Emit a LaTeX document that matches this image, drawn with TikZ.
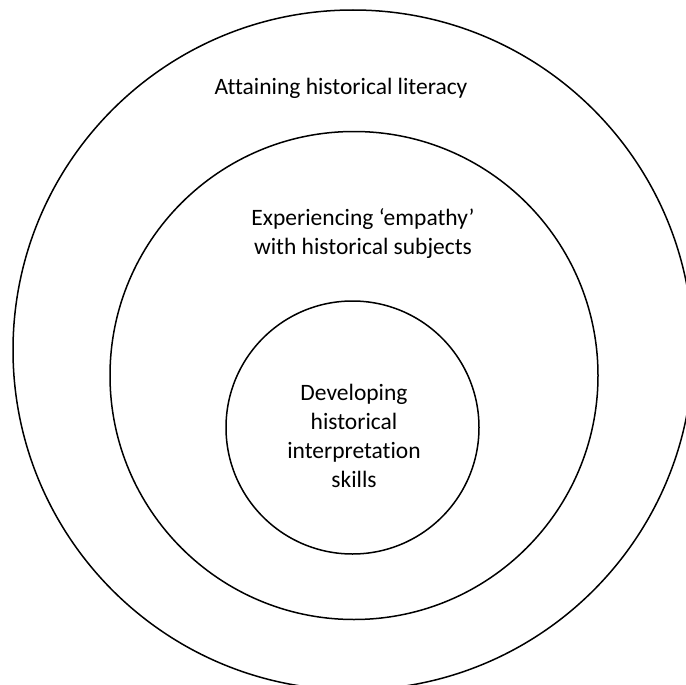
\documentclass[tikz,border=0pt]{standalone}
\usepackage{fontspec}
\setmainfont[Ligatures=NoCommon]{Carlito}
\begin{document}
\begin{tikzpicture}[x=1pt,y=-1pt,
  ring/.style={draw=black,line width=1.5pt},
  lbl/.style={font=\fontsize{23.5}{29}\selectfont,align=center,inner sep=0pt}]
\useasboundingbox (0,0) rectangle (686,685);
\clip (0,0) rectangle (686,685);
\fill[white] (0,0) rectangle (686,685);
\draw[ring] (353,350) circle[radius=340];
\draw[ring] (354,375.5) circle[radius=244];
\draw[ring] (352.5,427.5) circle[radius=126.5];
\node[lbl,anchor=base] (outer) at (341,95) {Attaining historical literacy};
\node[lbl] (middle) at (363,233.5) {Experiencing ‘empathy’\\with historical subjects};
\node[lbl] (inner) at (354,436) {Developing\\historical\\interpretation\\skills};
\end{tikzpicture}
\end{document}
